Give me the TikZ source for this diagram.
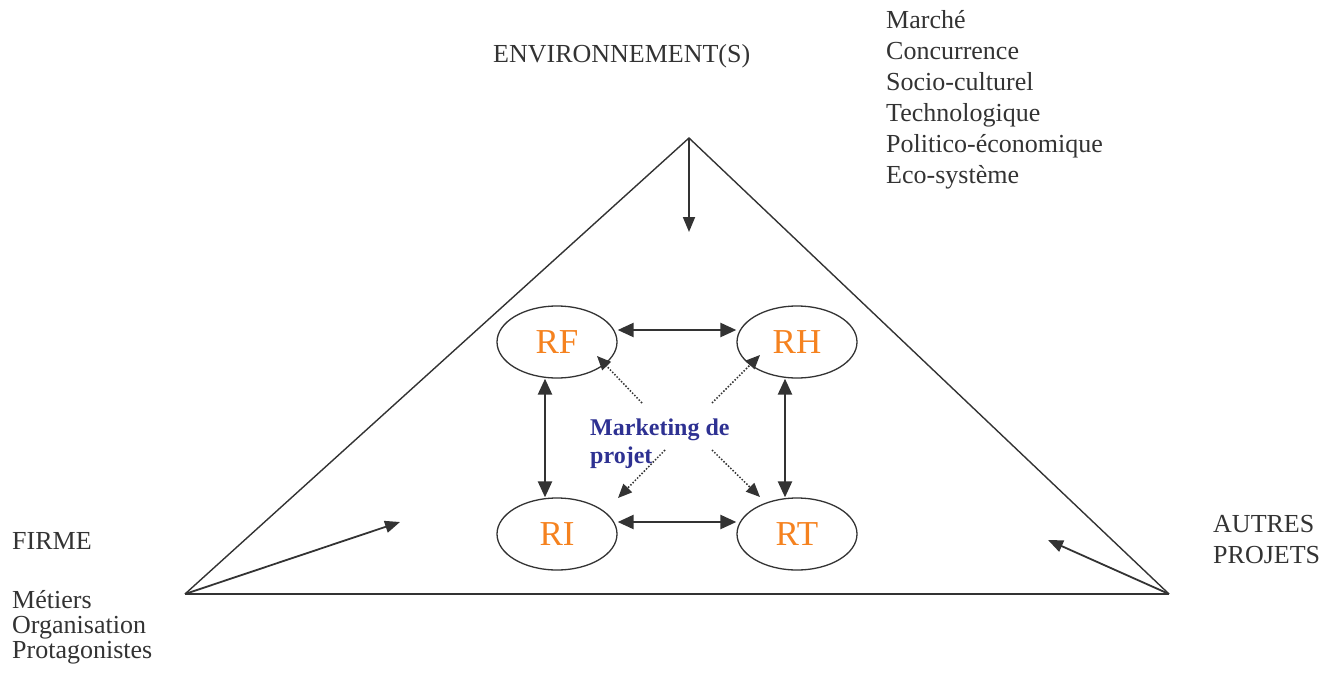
\documentclass[tikz,border=0pt]{standalone}
\usepackage{fontspec}
\setmainfont{Liberation Serif}
\usetikzlibrary{arrows.meta,calc,shapes.geometric}
\definecolor{ink}{HTML}{333333}
\definecolor{rorange}{HTML}{F5821F}
\definecolor{mblue}{HTML}{2E3192}
\tikzset{
  txt/.style={inner sep=0pt, font=\fontsize{26}{31}\selectfont, text=ink, align=left, anchor=base west},
  rbox/.style={draw=ink, line width=1.3pt, ellipse, minimum width=120pt, minimum height=72pt, inner sep=0pt, font=\fontsize{35}{35}\selectfont, text=rorange},
  edge/.style={draw=ink, line width=1.4pt},
  arr/.style={draw=ink, line width=1.8pt, -{Triangle[length=15pt,width=12pt]}},
  dbl/.style={draw=ink, line width=2.4pt, {Triangle[length=16pt,width=14pt]}-{Triangle[length=16pt,width=14pt]}},
  dotarr/.style={draw=ink, line width=1.5pt, dash pattern=on 1.5pt off 1.7pt, -{Triangle[length=14pt,width=12pt]}}
}
\begin{document}
\begin{tikzpicture}[x=1pt,y=-1pt]
\useasboundingbox (0,0) rectangle (1332,677);
% triangle
\coordinate (A) at (689,138);
\coordinate (L) at (185,594);
\coordinate (R) at (1169,594);
\draw[edge] (L) -- (A) -- (R);
\draw[edge, line width=1.8pt] (L) -- (R);
% outer arrows
\coordinate (Ae) at (689,232);
\coordinate (Le) at (400,522);
\coordinate (Re) at (1048,540);
\draw[arr] (A) -- (Ae);
\draw[arr] (L) -- (Le);
\draw[arr] (R) -- (Re);
% ellipses
\node[rbox] (RF) at (557,342) {RF};
\node[rbox] (RH) at (797,342) {RH};
\node[rbox] (RI) at (557,534) {RI};
\node[rbox] (RT) at (797,534) {RT};
\draw[dbl] ([yshift=12pt]RF.east) -- ([yshift=12pt]RH.west);
\draw[dbl] ([yshift=12pt]RI.east) -- ([yshift=12pt]RT.west);
\draw[dbl] ([xshift=-12pt]RF.south) -- ([xshift=-12pt]RI.north);
\draw[dbl] ([xshift=-12pt]RH.south) -- ([xshift=-12pt]RT.north);
% marketing
\node[inner sep=0pt, anchor=base west, align=left, font=\bfseries\fontsize{24}{28}\selectfont, text=mblue] (MK) at (590,463) {Marketing de\\projet};
\coordinate (m1) at (642,403);
\coordinate (m2) at (712,403);
\coordinate (m3) at (665,450);
\coordinate (m4) at (712,450);
\draw[dotarr] (m1) -- ($(RF.center)+(40,14)$);
\draw[dotarr] (m2) -- ($(RH.center)+(-37,13)$);
\draw[dotarr] (m3) -- ($(RI.center)+(61,-36)$);
\draw[dotarr] (m4) -- ($(RT.center)+(-37,-37)$);
% texts
\node[txt] (ENV) at (493,63) {ENVIRONNEMENT(S)};
\node[txt] (MKT) at (886,183) {Marché\\Concurrence\\Socio-culturel\\Technologique\\Politico-économique\\Eco-système};
\node[txt, font=\fontsize{26}{25}\selectfont] (FIR) at (12,658) {FIRME\\[34pt]Métiers\\Organisation\\Protagonistes};
\node[txt] (AUT) at (1213,563) {AUTRES\\PROJETS};
\end{tikzpicture}
\end{document}
